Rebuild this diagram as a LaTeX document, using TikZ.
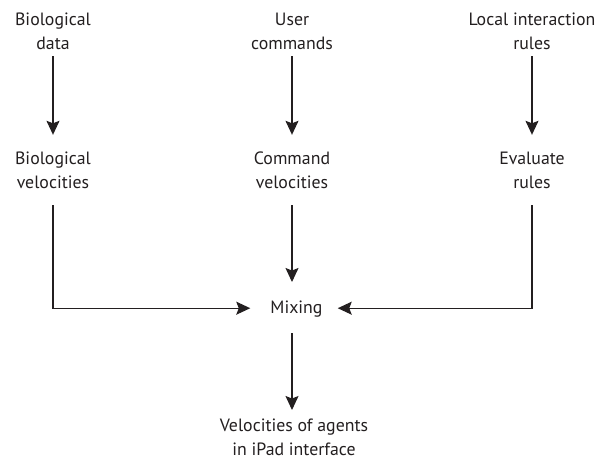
\documentclass[tikz,border=0pt]{standalone}
\usepackage{fontspec}
\setmainfont{PT Sans}
\usetikzlibrary{arrows.meta}
\definecolor{ink}{HTML}{231F20}
\begin{document}
\begin{tikzpicture}[x=1pt,y=-1pt,
  lbl/.style={inner sep=0pt, align=center, text=ink, font=\fontsize{17.8}{24}\selectfont},
  conn/.style={draw=ink, line width=1.1pt, -{Stealth[length=14pt,width=13pt,inset=2.5pt]}}]
\useasboundingbox (0,0) rectangle (614,459);
% top row
\node[lbl] (bdata) at (53,32.2) {\strut Biological\\\strut data};
\node[lbl] (ucmd) at (292,32.2) {\strut User\\\strut commands};
\node[lbl] (lrule) at (532,32.2) {\strut Local interaction\\\strut rules};
% second row
\node[lbl] (bvel) at (53,171.2) {\strut Biological\\\strut velocities};
\node[lbl] (cvel) at (292,171.2) {\strut Command\\\strut velocities};
\node[lbl] (erule) at (532,171.2) {\strut Evaluate\\\strut rules};
% mixing
\node[lbl] (mix) at (296.5,308.2) {\strut Mixing};
% bottom
\node[lbl] (out) at (294,438.2) {\strut Velocities of agents\\\strut in iPad interface};
% connectors
\draw[conn, shorten >=12.2pt] (bdata.south) -- (bvel.north);
\draw[conn, shorten >=12.2pt] (ucmd.south) -- (cvel.north);
\draw[conn, shorten >=12.2pt] (lrule.south) -- (erule.north);
\draw[conn, shorten <=10pt, shorten >=20pt] (bvel.south) |- (mix.west);
\draw[conn, shorten <=10pt, shorten >=15pt] (erule.south) |- (mix.east);
\draw[conn, shorten <=10pt, shorten >=14pt] (cvel.south) -- (cvel.south |- mix.north);
\draw[conn, shorten <=13pt, shorten >=4pt] (mix.south -| cvel.south) -- (out.north -| cvel.south);
\end{tikzpicture}
\end{document}
